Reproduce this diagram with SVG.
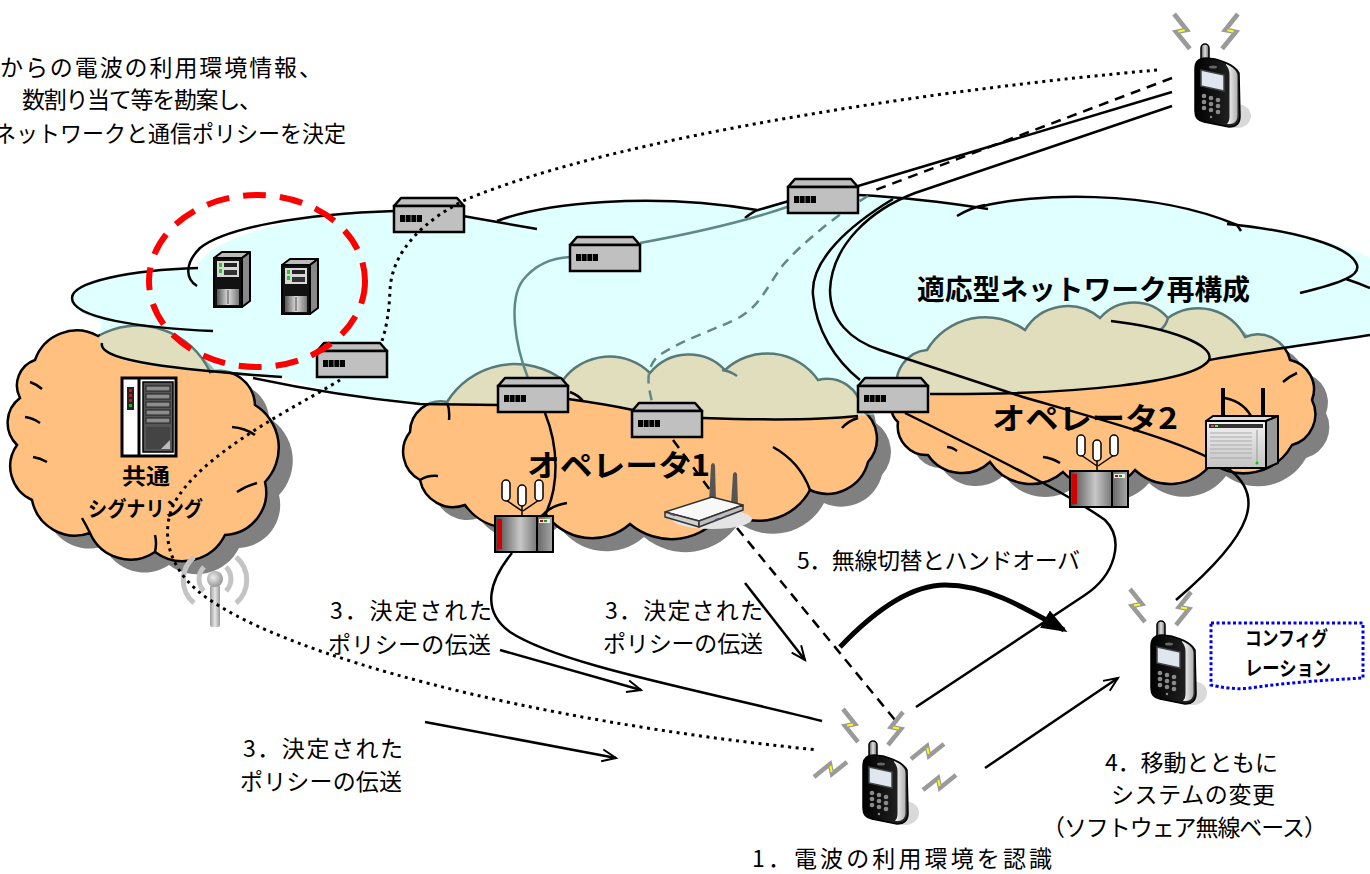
<svg xmlns="http://www.w3.org/2000/svg" width="1370" height="874" viewBox="0 0 1370 874">
<defs>
<style>
.t{font-family:"Noto Sans CJK JP","Noto Sans CJK SC",sans-serif;font-size:23px;fill:#000}
.tb{font-family:"Noto Sans CJK JP","Noto Sans CJK SC",sans-serif;font-weight:bold;fill:#000}
.ln{fill:none;stroke:#000;stroke-width:2.5}
.tk{fill:none;stroke:#000;stroke-width:2.5}
.tl{fill:none;stroke:#5f8888;stroke-width:2.5}
.dash{fill:none;stroke:#000;stroke-width:2.5;stroke-dasharray:10 7}
.dot{fill:none;stroke:#000;stroke-width:3;stroke-dasharray:3 4.5}
.org{fill:#ffc080;stroke:#000;stroke-width:2.5}
.shd{fill:#808080;stroke:none}
.bolt{fill:none;stroke:#9a9a9a;stroke-width:4.5;stroke-linejoin:miter}
.bolty{fill:none;stroke:#ffff00;stroke-width:2}
</style>
<linearGradient id="gAnt" x1="0" x2="1" y1="0" y2="0"><stop offset="0" stop-color="#555"/><stop offset="0.5" stop-color="#e0e0e0"/><stop offset="1" stop-color="#666"/></linearGradient>
<linearGradient id="gFront" x1="0" x2="1" y1="0" y2="0"><stop offset="0" stop-color="#000"/><stop offset="1" stop-color="#2a2a2a"/></linearGradient>
<linearGradient id="gSide" x1="0" x2="1" y1="0" y2="0"><stop offset="0" stop-color="#ffffff"/><stop offset="1" stop-color="#b0b0b0"/></linearGradient>
<linearGradient id="gBS" x1="0" x2="1" y1="0" y2="0"><stop offset="0" stop-color="#444"/><stop offset="0.6" stop-color="#c8c8c8"/><stop offset="1" stop-color="#777"/></linearGradient>
<linearGradient id="gBS2" x1="0" x2="1" y1="0" y2="0"><stop offset="0" stop-color="#666"/><stop offset="1" stop-color="#aaa"/></linearGradient>
<linearGradient id="gBox" x1="0" x2="0" y1="0" y2="1"><stop offset="0" stop-color="#f2f2f2"/><stop offset="1" stop-color="#c4c4c4"/></linearGradient>
<linearGradient id="gTw" x1="0" x2="1" y1="0" y2="0"><stop offset="0" stop-color="#555"/><stop offset="0.5" stop-color="#ddd"/><stop offset="1" stop-color="#777"/></linearGradient>
<linearGradient id="gPole" x1="0" x2="1" y1="0" y2="0"><stop offset="0" stop-color="#9a9a9a"/><stop offset="0.5" stop-color="#e6e6e6"/><stop offset="1" stop-color="#9a9a9a"/></linearGradient>
<radialGradient id="gBall" cx="0.4" cy="0.4" r="0.6"><stop offset="0" stop-color="#eee"/><stop offset="1" stop-color="#999"/></radialGradient>

<marker id="open" viewBox="0 0 16 14" refX="15" refY="7" markerWidth="16" markerHeight="14" markerUnits="userSpaceOnUse" orient="auto" overflow="visible"><path d="M1,1 L15,7 L1,13" fill="none" stroke="#000" stroke-width="2"/></marker>
<marker id="solid" viewBox="0 0 26 20" refX="22" refY="10" markerWidth="26" markerHeight="20" markerUnits="userSpaceOnUse" orient="auto"><path d="M0,0 L26,10 L0,20 Z" fill="#000"/></marker>

<!-- cloud outlines -->
<path id="cloudC" d="M35,360 A44,44 0 0,1 98,336 A80,80 0 0,1 210,372 A36,36 0 0,1 255,405 A50,50 0 0,1 265,482 A43,43 0 0,1 225,535 A47,47 0 0,1 155,552 A44,44 0 0,1 90,533 A44,44 0 0,1 32,500 A37,37 0 0,1 17,445 A31,31 0 0,1 20,398 A27,27 0 0,1 35,360 Z"/>
<path id="cloudD" d="M410,432 A31,31 0 0,1 447,402 A80,80 0 0,1 563,380 A58,58 0 0,1 650,373 A50,50 0 0,1 725,370 A62,62 0 0,1 818,380 A35,35 0 0,1 862,410 A35,35 0 0,1 868,462 A42,42 0 0,1 810,490 A58,58 0 0,1 725,510 A64,64 0 0,1 630,524 A57,57 0 0,1 545,513 A53,53 0 0,1 465,505 A34,34 0 0,1 420,480 A32,32 0 0,1 410,432 Z"/>
<path id="cloudE" d="M898,392 A33,33 0 0,1 927,350 A68,68 0 0,1 1025,330 A50,50 0 0,1 1100,318 A45,45 0 0,1 1168,318 A52,52 0 0,1 1245,337 A33,33 0 0,1 1290,360 A30,30 0 0,1 1312,400 A32,32 0 0,1 1292,445 A55,55 0 0,1 1212,463 A52,52 0 0,1 1135,470 A48,48 0 0,1 1063,472 A49,49 0 0,1 990,462 A41,41 0 0,1 928,455 A29,29 0 0,1 898,422 A20,20 0 0,1 898,392 Z"/>

<!-- network switch box -->
<g id="rt">
<polygon points="7,1 63,1 70,9 0,9" fill="#c0c0c0" stroke="#000" stroke-width="2.5" stroke-linejoin="round"/>
<rect x="0" y="9" width="70" height="26" fill="#c0c0c0" stroke="#000" stroke-width="2.5"/>
<rect x="6" y="18" width="22" height="7" fill="#000"/>
<path d="M11.5,18v7M17,18v7M22.5,18v7" stroke="#888" stroke-width="1"/>
</g>

<!-- tower server -->
<g id="tw">
<polygon points="0,6 8,0 36,0 28,6" fill="#bbb" stroke="#000" stroke-width="2" stroke-linejoin="round"/>
<polygon points="28,6 36,0 36,49 28,55" fill="#888" stroke="#000" stroke-width="2" stroke-linejoin="round"/>
<rect x="0" y="6" width="28" height="49" fill="#111" stroke="#000" stroke-width="2"/>
<rect x="3" y="9" width="22" height="16" fill="#d8d8d8"/>
<rect x="5" y="11" width="3" height="4" fill="#2c2"/>
<rect x="10" y="11" width="13" height="4" fill="#222"/>
<rect x="5" y="17" width="3" height="4" fill="#2c2"/>
<rect x="10" y="18" width="13" height="5" fill="#333"/>
<rect x="3" y="37" width="22" height="16" fill="url(#gTw)"/>
<line x1="14" y1="38" x2="14" y2="52" stroke="#444" stroke-width="1"/>
</g>

<!-- base station with three antennas -->
<g id="bs">
<path d="M13,22 L29,33 M29,27 L29,40 M46,22 L30,33" stroke="#000" stroke-width="1.5" fill="none"/>
<rect x="9" y="2" width="8" height="21" rx="4" fill="#fff" stroke="#000" stroke-width="1.5"/>
<rect x="25" y="7" width="8" height="21" rx="4" fill="#fff" stroke="#000" stroke-width="1.5"/>
<rect x="42" y="2" width="8" height="21" rx="4" fill="#fff" stroke="#000" stroke-width="1.5"/>
<rect x="2" y="38" width="42" height="36" fill="url(#gBS)" stroke="#000" stroke-width="2"/>
<rect x="4" y="41" width="5" height="30" fill="#d00000"/>
<rect x="44" y="38" width="16" height="36" fill="url(#gBS2)" stroke="#000" stroke-width="2"/>
<rect x="46" y="41" width="11" height="4" fill="#eee"/>
<rect x="47" y="42" width="3" height="2" fill="#c00"/>
<rect x="51" y="42" width="3" height="2" fill="#0a0"/>
</g>

<!-- handset -->
<g id="ph">
<ellipse cx="44" cy="73" rx="14" ry="12" fill="#d9d9d9"/>
<rect x="8" y="1" width="8" height="21" rx="4" fill="url(#gAnt)" stroke="#000" stroke-width="1.5"/>
<path d="M2,26 C2,18 7,15 13,15 L22,16 C33,19 43,24 46,30 L47,73 C47,80 43,84 36,84 L11,79 C5,78 2,74 2,68 Z" fill="url(#gFront)" stroke="#000" stroke-width="1.5"/>
<path d="M33,21 C40,24 44.5,28 44.5,33 L44.5,73 C44.5,78 41,81 37,81 L34,81 C36,79 36.5,76 36.5,73 L36.5,32 C36.5,27 35,24 33,22 Z" fill="url(#gSide)"/>
<path d="M8,27 L31,32 L31,48 L8,43 Z" fill="#dfe6f0" stroke="#444" stroke-width="1.5"/>
<ellipse cx="20" cy="24" rx="4" ry="1.5" fill="#666"/>
<g fill="#8a8a8a">
<circle cx="11" cy="53" r="2.3"/><circle cx="18" cy="55" r="2.3"/><circle cx="25" cy="57" r="2.3"/>
<circle cx="11" cy="59" r="2.3"/><circle cx="18" cy="61" r="2.3"/><circle cx="25" cy="63" r="2.3"/>
<circle cx="11" cy="65" r="2.3"/><circle cx="18" cy="67" r="2.3"/><circle cx="25" cy="69" r="2.3"/>
<circle cx="18" cy="74" r="1.2"/>
</g>
</g>

<!-- radio spark -->
<g id="bolt">
<polyline class="bolt" points="2,2 14,17 4,19 17,35"/>
<line class="bolty" x1="12" y1="17.4" x2="6" y2="18.6"/>
</g>
</defs>

<rect width="1370" height="874" fill="#fff"/>

<!-- operator clouds: shadows, fills -->
<g id="shadows">
<use href="#cloudC" class="shd" transform="translate(14,13)"/>
<use href="#cloudD" class="shd" transform="translate(14,13)"/>
<use href="#cloudE" class="shd" transform="translate(14,13)"/>
</g>
<g id="cloud-signaling">
<use href="#cloudC" class="org"/>
<path class="tk" d="M232,427 Q245,428 255,435 M237,492 Q246,486 257,483 M155,535 Q157,543 155,552 M82,518 Q86,525 90,533 M33,457 Q40,458 47,462 M25,417 Q33,418 40,423 M30,382 Q36,384 42,389"/>
</g>
<g id="cloud-operator1">
<use href="#cloudD" class="org"/>
<path class="tk" d="M447,402 Q450,410 449,420 M545,513 Q553,505 567,503 M810,490 Q800,462 773,447 M842,428 Q848,421 858,418 M420,480 Q428,475 438,476 M722,370 Q730,371 737,376"/>
</g>
<g id="cloud-operator2">
<use href="#cloudE" class="org"/>
<path class="tk" d="M1043,457 Q1052,458 1060,463 M947,447 Q952,447 957,451 M1283,382 Q1290,376 1297,373 M1225,398 Q1245,402 1253,420 M1168,318 Q1166,326 1160,330"/>
</g>

<!-- core network cloud (translucent over operator clouds) -->
<g id="cloud-core">
<path d="M72,297 C72,282 130,270 198,268 C200,240 300,212 395,210 L463,216 L497,221 C545,203 650,192 757,210 L790,200 L858,194 C900,196 950,202 983,206 C1030,194 1150,188 1237,225 C1290,232 1350,245 1370,258 L1370,335 C1320,343 1250,352 1209,360 C1195,380 1080,395 930,395 L930,410 L858,416 C800,420 720,420 703,418 L633,410 C610,405 590,400 568,398 L500,405 L420,404 C350,397 300,385 282,377 C200,373 120,367 102,350 C98,340 100,330 102,322 C90,318 72,310 72,297 Z" fill="#bdffff" fill-opacity="0.47"/>
<path class="tk" d="M198,268 C130,270 72,282 72,298 C72,318 140,328 213,331"/>
<path class="tk" d="M197,286 C184,278 186,262 200,248 C225,228 300,214 395,211"/>
<path class="tk" d="M463,216 L537,229"/>
<path class="tk" d="M497,221 C545,203 650,192 757,210"/>
<path class="tk" d="M745,218 C750,214 754,211 758,210 L789,201"/>
<path class="tk" d="M858,195 C900,197 950,203 988,209 M957,216 C965,211 975,207 985,205"/>
<path class="tk" d="M983,206 C1030,194 1150,188 1237,225 L1241,231"/>
<path class="tk" d="M1227,224 C1290,230 1350,245 1357,265 C1360,275 1345,282 1300,293"/>
<path class="tk" d="M1346,279 C1355,282 1363,285 1370,288"/>
<path class="tk" d="M1370,335 C1320,343 1250,352 1209,360"/>
<path class="tk" d="M1111,321 C1170,328 1215,345 1209,360 C1195,382 1080,395 930,394"/>
<path class="tk" d="M893,199 C850,225 810,260 813,295 C816,330 835,360 860,380"/>
<path class="tk" d="M102,343 C98,358 150,368 282,377"/>
<path class="tk" d="M253,378 C300,388 360,398 420,404 L498,405"/>
<path class="tk" d="M568,399 C590,402 610,405 633,410 M570,392 C575,394 580,397 583,401"/>
<path class="tk" d="M703,418 C760,420 820,420 858,416"/>
</g>

<!-- cloud titles -->
<g id="cloud-labels">
<text class="tb" x="917" y="300" font-size="28" textLength="333" lengthAdjust="spacingAndGlyphs">適応型ネットワーク再構成</text>
<text class="tb" x="527" y="476" font-size="30" textLength="183" lengthAdjust="spacingAndGlyphs">オペレータ1</text>
<text class="tb" x="992" y="429" font-size="30" textLength="186" lengthAdjust="spacingAndGlyphs">オペレータ2</text>
<text class="tb" x="122" y="484" font-size="22" textLength="48" lengthAdjust="spacingAndGlyphs">共通</text>
<text class="tb" x="88" y="516" font-size="21" textLength="115" lengthAdjust="spacingAndGlyphs">シグナリング</text>
</g>

<!-- connectors -->
<g id="connectors">
<path class="tl" d="M528,378 C515,345 508,300 523,280 C535,265 550,258 570,257"/>
<path class="tl" d="M640,243 C700,232 750,220 790,206"/>
<path class="tl" stroke-dasharray="10 7" d="M868,196 C840,212 800,245 783,265 C765,290 760,305 740,317 C720,328 680,340 657,357 C645,370 648,385 652,402"/>
<path class="dash" d="M1172,78 L870,192"/>
<path class="ln" d="M1172,92 L858,186"/>
<path class="ln" d="M1172,106 L915,193 C870,210 832,245 830,290 C830,320 850,340 880,350 L1023,397 C1120,425 1195,445 1230,470 C1262,495 1258,530 1176,600"/>
<path class="ln" d="M905,413 C1000,460 1070,495 1105,520 C1125,540 1115,575 1085,595 L916,707"/>
<path class="ln" d="M545,413 C558,445 560,485 545,515"/>
<path class="ln" d="M512,553 C490,580 480,610 510,632 C560,665 700,690 822,721"/>
<path class="dash" stroke-dasharray="8 6" d="M673,440 L710,490"/>
<path class="dash" d="M737,528 L895,720"/>
<path fill="none" stroke="#000" stroke-width="5" d="M840,647 C880,605 915,585 945,585 C985,585 1020,605 1064,630" marker-end="url(#solid)"/>
<path class="ln" stroke-width="2" d="M985,768 L1118,678" marker-end="url(#open)"/>
<path class="ln" stroke-width="2" d="M745,583 L805,660" marker-end="url(#open)"/>
<path class="ln" stroke-width="2" d="M500,650 L641,690" marker-end="url(#open)"/>
<path class="ln" stroke-width="2" d="M425,722 L616,758" marker-end="url(#open)"/>
</g>

<!-- servers in the control area -->
<g id="server-1"><use href="#tw" transform="translate(214,252)"/></g>
<g id="server-2"><use href="#tw" transform="translate(282,259)"/></g>

<!-- signaling rack -->
<g id="signaling-server">
<rect x="122" y="378" width="54" height="78" fill="#fff" stroke="#000" stroke-width="3"/>
<line x1="139" y1="378" x2="139" y2="456" stroke="#000" stroke-width="3"/>
<rect x="127" y="387" width="7" height="23" fill="#222"/>
<rect x="129" y="389" width="3" height="3" fill="#f00"/>
<rect x="129" y="394" width="3" height="3" fill="#f00"/>
<rect x="129" y="399" width="3" height="3" fill="#f00"/>
<rect x="129" y="404" width="3" height="3" fill="#0c0"/>
<rect x="143" y="382" width="30" height="70" fill="#555" stroke="#000" stroke-width="1.5"/>
<g fill="#8c8c8c" stroke="#222" stroke-width="1">
<rect x="146" y="386" width="24" height="5"/><rect x="146" y="394" width="24" height="5"/><rect x="146" y="402" width="24" height="5"/><rect x="146" y="410" width="24" height="5"/><rect x="146" y="418" width="24" height="5"/>
</g>
<rect x="146" y="427" width="24" height="22" fill="#444"/>
<path d="M170,440 L170,449 L161,449 Z" fill="#bbb"/>
</g>

<!-- radio mast -->
<g id="mast">
<g fill="none" stroke="#c4c4c4" stroke-width="5">
<path d="M204,567 A17,17 0 0,0 204,591"/>
<path d="M194,557 A30,30 0 0,0 194,603"/>
<path d="M226,567 A17,17 0 0,1 226,591"/>
<path d="M236,557 A30,30 0 0,1 236,603"/>
</g>
<rect x="210" y="585" width="10" height="42" rx="2" fill="url(#gPole)"/>
<circle cx="215" cy="579" r="8" fill="url(#gBall)"/>
</g>

<!-- switches -->
<g id="switch-r1"><use href="#rt" transform="translate(394,197)"/></g>
<g id="switch-r2"><use href="#rt" transform="translate(570,236)"/></g>
<g id="switch-r3"><use href="#rt" transform="translate(788,178)"/></g>
<g id="switch-r5"><use href="#rt" transform="translate(498,377)"/></g>
<g id="switch-r6"><use href="#rt" transform="translate(632,402)"/></g>
<g id="switch-r7"><use href="#rt" transform="translate(858,377)"/></g>

<!-- base stations -->
<g id="bs-operator1"><use href="#bs" transform="translate(493,478)"/></g>
<g id="bs-operator2"><use href="#bs" transform="translate(1068,433)"/></g>

<!-- wireless LAN access point -->
<g id="wlan-ap">
<ellipse cx="712" cy="519" rx="40" ry="10" fill="#e4e4e4"/>
<path d="M709,502 L711,465 Q713,461 715,465 L716,502 Z" fill="#555"/>
<path d="M731,505 L733,474 Q735,470 737,474 L738,505 Z" fill="#555"/>
<polygon points="665,512 712,497 743,505 699,521" fill="#f8f8f8" stroke="#333" stroke-width="1.5" stroke-linejoin="round"/>
<polygon points="665,512 699,521 699,527 665,517" fill="#d0d0d0" stroke="#333" stroke-width="1.5" stroke-linejoin="round"/>
<polygon points="699,521 743,505 743,510 699,527" fill="#bdbdbd" stroke="#333" stroke-width="1.5" stroke-linejoin="round"/>
<path d="M670,514 l5,1.5 M715,520 l4,-1.5 M724,517 l4,-1.5" stroke="#557" stroke-width="1.5"/>
</g>

<!-- operator 2 access router -->
<g id="ap-operator2">
<line x1="1223" y1="388" x2="1223" y2="424" stroke="#000" stroke-width="4"/>
<line x1="1263" y1="388" x2="1263" y2="424" stroke="#000" stroke-width="4"/>
<polygon points="1206,421 1213,416 1278,416 1266,421" fill="#ddd" stroke="#000" stroke-width="2" stroke-linejoin="round"/>
<polygon points="1266,421 1278,416 1278,463 1266,468" fill="#999" stroke="#000" stroke-width="2" stroke-linejoin="round"/>
<rect x="1206" y="421" width="60" height="47" fill="url(#gBox)" stroke="#000" stroke-width="2"/>
<rect x="1209" y="424" width="54" height="4" fill="#333"/>
<rect x="1211" y="425" width="3" height="2" fill="#f33"/><rect x="1215" y="425" width="3" height="2" fill="#3f3"/>
<path d="M1210,433 h42 M1210,437 h42 M1210,441 h42 M1210,445 h42 M1210,449 h42 M1210,453 h42 M1210,458 h42" stroke="#aaa" stroke-width="1"/>
<line x1="1257" y1="430" x2="1257" y2="464" stroke="#999" stroke-width="1"/>
<circle cx="1257" cy="463" r="1.5" fill="#0c0"/>
</g>

<!-- handsets with radio sparks -->
<g id="phone-top">
<use href="#ph" transform="translate(1193,43)"/>
<use href="#bolt" transform="translate(1172,12) scale(1.05)"/>
<use href="#bolt" transform="translate(1240,12) scale(-1.05,1.05)"/>
</g>
<g id="phone-right">
<use href="#ph" transform="translate(1149,620)"/>
<use href="#bolt" transform="translate(1128,587)"/>
<use href="#bolt" transform="translate(1193,590) scale(-1,1)"/>
</g>
<g id="phone-bottom">
<use href="#ph" transform="translate(861,740)"/>
<use href="#bolt" transform="translate(841,707)"/>
<use href="#bolt" transform="translate(905,710) scale(-1,1)"/>
<use href="#bolt" transform="translate(946,742) rotate(90)"/>
<use href="#bolt" transform="translate(921,792) rotate(-90)"/>
<use href="#bolt" transform="translate(849,760) rotate(90)"/>
</g>

<!-- dotted signaling path -->
<g id="signaling-path">
<path class="dot" d="M1157,70 C950,88 620,135 465,200 C425,220 392,250 390,290 C389,315 386,328 382,341"/>
<path class="dot" d="M340,380 C300,405 195,455 172,508 C160,540 172,575 210,600 C290,655 520,720 818,750"/>
</g>
<g id="switch-r4"><use href="#rt" transform="translate(317,342)"/></g>

<!-- control area marker -->
<ellipse id="control-area" cx="257" cy="281" rx="108" ry="86" fill="none" stroke="#ff0000" stroke-width="6" stroke-dasharray="23 14"/>

<!-- configuration note -->
<g id="config-note">
<path d="M1211,623 L1363,623 L1363,678 C1330,680 1290,682 1250,688 C1235,690 1220,687 1211,685 Z" fill="#fff" stroke="#0000ee" stroke-width="3" stroke-dasharray="3 2.5"/>
<text class="tb" x="1245" y="646" font-size="20" textLength="83" lengthAdjust="spacingAndGlyphs">コンフィグ</text>
<text class="tb" x="1245" y="676" font-size="20" textLength="86" lengthAdjust="spacingAndGlyphs">レーション</text>
</g>

<!-- step labels -->
<g id="labels">
<text class="t" x="0" y="76" textLength="322" lengthAdjust="spacing">からの電波の利用環境情報、</text>
<text class="t" x="22" y="108" textLength="240" lengthAdjust="spacing">数割り当て等を勘案し、</text>
<text class="t" x="-6" y="142" textLength="352" lengthAdjust="spacingAndGlyphs">ネットワークと通信ポリシーを決定</text>
<text class="t" x="330" y="619" textLength="162" lengthAdjust="spacing">3．決定された</text>
<text class="t" x="328" y="653" textLength="163" lengthAdjust="spacing">ポリシーの伝送</text>
<text class="t" x="605" y="619" textLength="158" lengthAdjust="spacing">3．決定された</text>
<text class="t" x="603" y="652" textLength="160" lengthAdjust="spacing">ポリシーの伝送</text>
<text class="t" x="243" y="757" textLength="160" lengthAdjust="spacing">3．決定された</text>
<text class="t" x="240" y="790" textLength="162" lengthAdjust="spacing">ポリシーの伝送</text>
<text class="t" x="797" y="569" textLength="283" lengthAdjust="spacing">5．無線切替とハンドオーバ</text>
<text class="t" x="1105" y="771" textLength="173" lengthAdjust="spacing">4．移動とともに</text>
<text class="t" x="1111" y="803" textLength="164" lengthAdjust="spacing">システムの変更</text>
<text class="t" x="1042" y="836" textLength="285" lengthAdjust="spacing">（ソフトウェア無線ベース）</text>
<text class="t" x="752" y="867" textLength="300" lengthAdjust="spacing">1．電波の利用環境を認識</text>
</g>
</svg>
